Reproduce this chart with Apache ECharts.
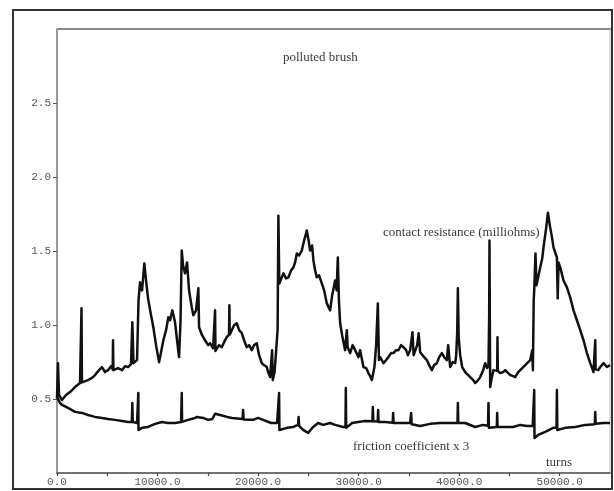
<!DOCTYPE html>
<html>
<head>
<meta charset="utf-8">
<title>polluted brush</title>
<script src="https://cdn.jsdelivr.net/npm/echarts@6/dist/echarts.min.js"></script>
<style>
  html, body { margin: 0; padding: 0; background: #fff; }
  #chart { width: 614px; height: 491px; }
</style>
</head>
<body>
<div id="chart"></div>
<script>
// Contact resistance (milliohms) against turns
const resistanceTurns = [
  0, 100, 199, 498, 896, 1294, 1791, 2289, 2400, 2438, 2480, 2537,
  3085, 3483, 3781, 4179, 4478, 4776, 5075, 5373, 5540, 5572, 5610, 5672,
  6070, 6468, 6766, 7065, 7363, 7492, 7612, 7960, 8109, 8259,
  8458, 8686, 8856, 9055, 9353, 9582, 9851, 10149, 10348, 10577,
  10846, 11074, 11244, 11472, 11741, 11940, 12139, 12288, 12408, 12537,
  12736, 12935, 13134, 13403, 13562, 13831, 14059, 14129, 14428, 14726,
  15025, 15224, 15522, 15690, 15721, 15760, 15890, 16119, 16388, 16617, 16885, 17110, 17144, 17180,
  17263, 17383, 17612, 17880, 18109, 18378, 18607, 18875, 19104, 19373,
  19602, 19870, 20099, 20368, 20597, 20865, 20995, 21194, 21393, 21462,
  21641, 21791, 21940, 22019, 22109, 22189, 22517, 22786, 23014, 23283,
  23512, 23681, 23850, 24079, 24348, 24577, 24845, 25024, 25174, 25373,
  25502, 25671, 25840, 26069, 26338, 26567, 26835, 27164, 27363, 27661,
  27810, 27930, 28039, 28159, 28358, 28656, 28825, 28905, 29154, 29403,
  29651, 29979, 30149, 30477, 30746, 30974, 31144, 31313, 31571, 31741,
  31910, 32019, 32139, 32467, 32736, 32964, 33233, 33462, 33731, 33959,
  34228, 34457, 34726, 34895, 35124, 35353, 35472, 35621, 35820, 35969,
  36119, 36288, 36517, 36785, 37014, 37283, 37512, 37780, 38009, 38278,
  38507, 38775, 38905, 39104, 39353, 39601, 39701, 39800, 39870, 39949,
  40099, 40298, 40596, 41094, 41392, 41591, 41890, 42089, 42387, 42586,
  42785, 42914, 42984, 43014, 43054, 43084, 43233, 43412, 43581, 43780, 43810, 43840,
  43880, 44079, 44377, 44576, 44875, 45074, 45372, 45571, 45870, 46069,
  46367, 46566, 46865, 47064, 47263, 47332, 47412, 47462, 47591, 47690,
  47790, 48059, 48258, 48387, 48656, 48825, 49054, 49203, 49382, 49551,
  49720, 49800, 49879, 50049, 50377, 50715, 51044, 51372, 51710, 52039,
  52367, 52705, 53034, 53362, 53500, 53531, 53570, 53631, 53830, 54029, 54357, 54695,
  55000
];
const resistance = [
  0.507, 0.742, 0.527, 0.493, 0.527, 0.547, 0.581, 0.608, 0.610, 1.113, 0.612, 0.614,
  0.628, 0.642, 0.662, 0.695, 0.716, 0.682, 0.695, 0.722, 0.700, 0.897, 0.695, 0.689,
  0.709, 0.695, 0.722, 0.716, 0.736, 1.018, 0.742, 0.763, 1.167, 1.288,
  1.234, 1.416, 1.301, 1.180, 1.066, 0.985, 0.864, 0.749, 0.816, 0.897,
  0.965, 1.052, 1.032, 1.099, 1.018, 0.897, 0.783, 1.032, 1.503, 1.402,
  1.349, 1.423, 1.234, 1.120, 1.066, 1.099, 1.248, 0.985, 0.931, 0.897,
  0.864, 0.877, 0.843, 0.830, 1.099, 0.825, 0.816, 0.864, 0.850, 0.884, 0.918, 0.935, 1.133, 0.935,
  0.931, 0.965, 0.998, 1.012, 0.965, 0.945, 0.897, 0.850, 0.864, 0.830,
  0.864, 0.877, 0.796, 0.742, 0.729, 0.716, 0.682, 0.648, 0.830, 0.628,
  0.682, 0.695, 0.965, 1.739, 1.281, 1.281, 1.349, 1.315, 1.322, 1.369,
  1.389, 1.423, 1.483, 1.470, 1.503, 1.571, 1.638, 1.571, 1.503, 1.537,
  1.436, 1.369, 1.322, 1.336, 1.281, 1.234, 1.146, 1.099, 1.200, 1.301,
  1.234, 1.456, 1.167, 1.012, 0.931, 0.830, 0.965, 0.850, 0.810, 0.864,
  0.830, 0.783, 0.830, 0.716, 0.709, 0.675, 0.655, 0.628, 0.716, 0.864,
  1.146, 0.763, 0.783, 0.742, 0.763, 0.783, 0.810, 0.810, 0.830, 0.830,
  0.864, 0.850, 0.830, 0.796, 0.830, 0.951, 0.796, 0.796, 0.864, 0.945,
  0.816, 0.810, 0.783, 0.763, 0.729, 0.695, 0.729, 0.742, 0.783, 0.810,
  0.783, 0.763, 0.864, 0.716, 0.749, 0.742, 0.796, 0.945, 1.248, 0.918,
  0.796, 0.716, 0.682, 0.648, 0.628, 0.608, 0.628, 0.648, 0.695, 0.742,
  0.709, 0.729, 1.066, 1.571, 0.965, 0.581, 0.642, 0.695, 0.682, 0.690, 0.918, 0.690,
  0.695, 0.675, 0.682, 0.695, 0.675, 0.662, 0.655, 0.648, 0.682, 0.695,
  0.716, 0.729, 0.749, 0.763, 0.830, 0.695, 1.167, 1.234, 1.483, 1.268,
  1.281, 1.389, 1.449, 1.524, 1.658, 1.759, 1.658, 1.604, 1.524, 1.490,
  1.456, 1.180, 1.423, 1.389, 1.301, 1.254, 1.187, 1.099, 1.032, 0.965,
  0.897, 0.810, 0.742, 0.682, 0.690, 0.897, 0.700, 0.709, 0.695, 0.716, 0.742, 0.716,
  0.729
];

// Friction coefficient (scaled by 3) against turns
const frictionTurns = [
  0, 299, 498, 1095, 1791, 2488, 3085, 3781, 4478, 5075,
  5771, 6468, 7065, 7440, 7492, 7540, 7960, 8060, 8089, 8105,
  8200, 8458, 9055, 9751, 10448, 11045, 11741, 12338, 12380, 12408,
  12440, 13035, 13731, 13930, 14527, 15025, 15450, 15721, 16219, 16915,
  17413, 18460, 18507, 18560, 19005, 19502, 20000, 20497, 21293, 21890,
  22050, 22089, 22120, 22885, 23482, 23980, 24029, 24080, 24477, 24975,
  25472, 25970, 26467, 27164, 27661, 28457, 28690, 28726, 28760, 29353,
  29950, 30646, 31370, 31412, 31460, 31900, 31940, 31980, 32636, 33390,
  33432, 33480, 34129, 35124, 35180, 35223, 35270, 36119, 37114, 38109,
  39104, 39830, 39870, 39910, 40596, 41591, 42387, 42870, 42914, 42960,
  43084, 43740, 43780, 43820, 44576, 45372, 46069, 46765, 47313, 47440,
  47462, 47490, 47860, 48557, 49352, 49680, 49720, 49760, 50546, 51541,
  52536, 53490, 53531, 53570, 54328, 55000
];
const friction = [
  0.514, 0.473, 0.460, 0.440, 0.413, 0.406, 0.392, 0.379, 0.372, 0.365,
  0.359, 0.352, 0.345, 0.345, 0.473, 0.345, 0.338, 0.338, 0.540, 0.291,
  0.300, 0.305, 0.311, 0.332, 0.345, 0.338, 0.338, 0.345, 0.345, 0.540,
  0.345, 0.359, 0.372, 0.379, 0.372, 0.359, 0.365, 0.400, 0.392, 0.379,
  0.372, 0.365, 0.426, 0.362, 0.359, 0.359, 0.372, 0.359, 0.338, 0.338,
  0.338, 0.540, 0.291, 0.305, 0.311, 0.325, 0.379, 0.318, 0.291, 0.271,
  0.311, 0.338, 0.325, 0.338, 0.325, 0.311, 0.311, 0.574, 0.305, 0.338,
  0.345, 0.352, 0.350, 0.446, 0.350, 0.348, 0.426, 0.345, 0.345, 0.340,
  0.406, 0.338, 0.338, 0.338, 0.338, 0.406, 0.330, 0.318, 0.332, 0.338,
  0.338, 0.338, 0.473, 0.338, 0.338, 0.311, 0.325, 0.320, 0.473, 0.305,
  0.305, 0.311, 0.406, 0.311, 0.311, 0.311, 0.325, 0.318, 0.318, 0.318,
  0.561, 0.237, 0.257, 0.278, 0.305, 0.305, 0.561, 0.291, 0.305, 0.311,
  0.325, 0.330, 0.413, 0.332, 0.338, 0.338
];

// Axis ticks
const turnTicks = [0, 10000, 20000, 30000, 40000, 50000];
const valueTicks = [0.5, 1.0, 1.5, 2.0, 2.5];

const pairs = (xs, ys) => xs.map((x, i) => [x, ys[i]]);

const chart = echarts.init(document.getElementById('chart'), null, { renderer: 'canvas' });

const labelFont = { fontFamily: 'Liberation Mono', fontSize: 11, color: '#555' };
const noteFont = { fontFamily: 'Liberation Serif', fontSize: 13, fill: '#3a3a3a' };

chart.setOption({
  animation: false,
  backgroundColor: '#ffffff',
  grid: { left: 57, right: 4, top: 29, bottom: 18, containLabel: false },
  xAxis: {
    type: 'value',
    min: 0,
    max: 55000,
    interval: 5000,
    splitLine: { show: false },
    axisLine: { show: true, onZero: false, lineStyle: { color: '#444', width: 1.5 } },
    axisTick: { show: true, length: 3, lineStyle: { color: '#444', width: 1.2 } },
    axisLabel: Object.assign({
      margin: 4,
      showMaxLabel: false,
      formatter: v => turnTicks.includes(v) ? v.toFixed(1) : ''
    }, labelFont)
  },
  yAxis: {
    type: 'value',
    min: 0,
    max: 3,
    interval: 0.5,
    splitLine: { show: false },
    axisLine: { show: true, onZero: false, lineStyle: { color: '#999', width: 2 } },
    axisTick: { show: true, length: 4, lineStyle: { color: '#555', width: 1 } },
    axisLabel: Object.assign({
      margin: 6,
      showMinLabel: false,
      showMaxLabel: false,
      formatter: v => valueTicks.some(t => Math.abs(t - v) < 1e-9) ? v.toFixed(1) : ''
    }, labelFont)
  },
  series: [
    {
      name: 'contact resistance (milliohms)',
      type: 'line',
      data: pairs(resistanceTurns, resistance),
      showSymbol: false,
      lineStyle: { color: '#111', width: 2.5, join: 'round' },
      z: 3
    },
    {
      name: 'friction coefficient x 3',
      type: 'line',
      data: pairs(frictionTurns, friction),
      showSymbol: false,
      lineStyle: { color: '#111', width: 2.5, join: 'round' },
      z: 3
    }
  ],
  graphic: [
    // outer border
    { type: 'rect', shape: { x: 13, y: 10, width: 599, height: 479 },
      style: { fill: 'none', stroke: '#333', lineWidth: 2 }, silent: true },
    // plot frame top and right
    { type: 'line', shape: { x1: 57, y1: 29, x2: 611, y2: 29 },
      style: { stroke: '#888', lineWidth: 2 }, silent: true },
    { type: 'line', shape: { x1: 610, y1: 29, x2: 610, y2: 473 },
      style: { stroke: '#bbb', lineWidth: 1 }, silent: true },
    { type: 'text', left: 283, top: 51,
      style: Object.assign({ text: 'polluted brush' }, noteFont) },
    { type: 'text', left: 383, top: 226,
      style: Object.assign({ text: 'contact resistance (milliohms)' }, noteFont) },
    { type: 'text', left: 353, top: 440,
      style: Object.assign({ text: 'friction coefficient x 3' }, noteFont) },
    { type: 'text', left: 546, top: 456,
      style: Object.assign({ text: 'turns' }, noteFont) }
  ]
});
</script>
</body>
</html>
